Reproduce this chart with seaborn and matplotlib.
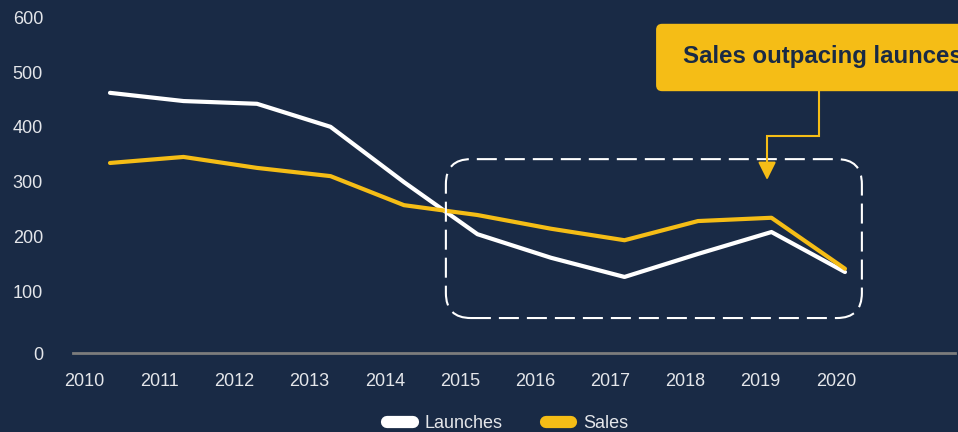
import matplotlib
matplotlib.use("Agg")
import matplotlib.pyplot as plt
from matplotlib.patches import FancyBboxPatch
from matplotlib.lines import Line2D
import seaborn as sns
import pandas as pd

# ---- data -------------------------------------------------------------
years = [2010, 2011, 2012, 2013, 2014, 2015, 2016, 2017, 2018, 2019, 2020]
launches = [462, 447, 442, 400, 299, 204, 161, 126, 168, 208, 135]
sales = [334, 345, 325, 310, 257, 239, 214, 193, 228, 234, 141]
y_tick_labels = ["0", "100", "200", "300", "400", "500", "600"]
series_names = ["Launches", "Sales"]
callout_text = "Sales outpacing launces"

# ---- style ------------------------------------------------------------
NAVY = "#192a45"
YELLOW = "#f5bd16"
WHITE = "#ffffff"
TEXT = "#e4e6ea"
AXIS_GREY = "#7c7c7c"

sns.set_theme(style="white")
plt.rcParams["font.family"] = ["Liberation Sans", "DejaVu Sans"]

df = pd.DataFrame({
    "idx": list(range(len(years))) * 2,
    "value": launches + sales,
    "series": [series_names[0]] * len(years) + [series_names[1]] * len(years),
})

W, H = 958, 432
fig = plt.figure(figsize=(W / 100, H / 100), dpi=100, facecolor=NAVY)
ax = fig.add_axes([73 / W, (H - 353) / H, 882 / W, 336 / H])
ax.set_facecolor(NAVY)

sns.lineplot(data=df, x="idx", y="value", hue="series",
             hue_order=series_names, palette=[WHITE, YELLOW],
             linewidth=3.0, legend=False, ax=ax,
             solid_capstyle="round", solid_joinstyle="round")

x_lo, x_hi = -0.5034, 11.497
y_lo, y_hi = -12.8, 600.4
ax.set_xlim(x_lo, x_hi)
ax.set_ylim(y_lo, y_hi)

# axes: only a grey baseline, no grid
for side in ["top", "right", "left"]:
    ax.spines[side].set_visible(False)
ax.spines["bottom"].set_color(AXIS_GREY)
ax.spines["bottom"].set_linewidth(2)
ax.grid(False)

# x labels sit slightly left of the data points and spread a bit wider
ax.set_xticks([i * 1.023 - 0.354 for i in range(len(years))])
ax.set_xticklabels([str(y) for y in years])
ax.set_yticks([y_lo] + [100 * k for k in range(1, len(y_tick_labels))])
ax.set_yticklabels(y_tick_labels)
ax.tick_params(axis="x", length=0, pad=14.4, labelsize=13, labelcolor=TEXT)
ax.tick_params(axis="y", length=0, pad=21.6, labelsize=13, labelcolor=TEXT)
ax.set_xlabel("")
ax.set_ylabel("")

# pixel scale of the data space, for round corners in data units
px_x = (ax.transData.transform((1, 0))[0] - ax.transData.transform((0, 0))[0])
px_y = (ax.transData.transform((0, 100))[1] - ax.transData.transform((0, 0))[1]) / 100
aspect = px_x / px_y

# dashed highlight region
hl = FancyBboxPatch((4.57, 51), 10.23 - 4.57, 341 - 51,
                    boxstyle=f"round,pad=0,rounding_size={25 / px_x}",
                    mutation_aspect=aspect, transform=ax.transData,
                    fill=False, edgecolor=WHITE, linewidth=1.5,
                    linestyle=(0, (9.6, 3.84)), zorder=4)
ax.add_patch(hl)

# callout box
box = FancyBboxPatch((7.43, 465), 12.5 - 7.43, 588 - 465,
                     boxstyle=f"round,pad=0,rounding_size={6 / px_x}",
                     mutation_aspect=aspect, transform=ax.transData,
                     facecolor=YELLOW, edgecolor="none", clip_on=False, zorder=5)
ax.add_patch(box)
ax.text(7.80, 529, callout_text, fontsize=17.3, fontweight="bold",
        color=NAVY, ha="left", va="center", clip_on=False, zorder=6)

# elbow connector from the callout into the region
ax.plot([9.65, 9.65, 8.94, 8.94], [465, 383, 383, 330], color=YELLOW,
        linewidth=1.5, solid_joinstyle="miter", clip_on=False, zorder=5)
ax.annotate("", xy=(8.94, 303), xytext=(8.94, 335),
            arrowprops=dict(arrowstyle="-|>,head_length=1.0,head_width=0.5",
                            mutation_scale=10.8, color=YELLOW, lw=1.5,
                            shrinkA=0, shrinkB=0),
            zorder=6)

# legend with pill-shaped keys
handles = [Line2D([0], [0], color=c, linewidth=8.8, solid_capstyle="round")
           for c in [WHITE, YELLOW]]
leg = fig.legend(handles, series_names, loc="center",
                 bbox_to_anchor=(508 / W, 1 - 423.5 / H), ncol=2,
                 frameon=False, fontsize=13, handlelength=1.4,
                 handletextpad=0.67, columnspacing=2.4, borderpad=0)
for t in leg.get_texts():
    t.set_color(TEXT)

fig.savefig("out.png", dpi=100, facecolor=NAVY)
